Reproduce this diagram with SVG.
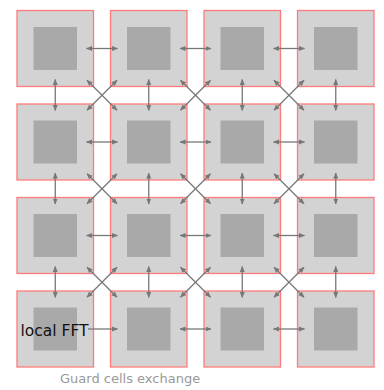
<svg xmlns="http://www.w3.org/2000/svg" width="384" height="390" viewBox="0 0 384 390">
<style>
.outer{fill:#d3d3d3;stroke:#ff7b7b;stroke-width:1.3}
.inner{fill:#a9a9a9}
.ar{stroke:#777;stroke-width:1.3;fill:none;marker-start:url(#ah);marker-end:url(#ah)}
.ar1{stroke:#777;stroke-width:1.3;fill:none;marker-end:url(#ah)}
.lbl{font-family:"DejaVu Sans",sans-serif;font-size:15.5px;fill:#111}
.cap{font-family:"DejaVu Sans",sans-serif;font-size:13px;fill:#999}
</style>
<defs>
<marker id="ah" viewBox="0 0 6 6" refX="5.5" refY="3" markerWidth="6" markerHeight="6" markerUnits="userSpaceOnUse" orient="auto-start-reverse">
<path d="M0,0.5 L6,3 L0,5.5 z" fill="#777"/>
</marker>
</defs>
<g id="nodes">
<g id="n00"><rect class="outer" x="17" y="10.5" width="76.5" height="76"/><rect class="inner" x="33.5" y="27" width="43.5" height="43"/></g>
<g id="n01"><rect class="outer" x="110.5" y="10.5" width="76.5" height="76"/><rect class="inner" x="127" y="27" width="43.5" height="43"/></g>
<g id="n02"><rect class="outer" x="204" y="10.5" width="76.5" height="76"/><rect class="inner" x="220.5" y="27" width="43.5" height="43"/></g>
<g id="n03"><rect class="outer" x="297.5" y="10.5" width="76.5" height="76"/><rect class="inner" x="314" y="27" width="43.5" height="43"/></g>
<g id="n10"><rect class="outer" x="17" y="104" width="76.5" height="76"/><rect class="inner" x="33.5" y="120.5" width="43.5" height="43"/></g>
<g id="n11"><rect class="outer" x="110.5" y="104" width="76.5" height="76"/><rect class="inner" x="127" y="120.5" width="43.5" height="43"/></g>
<g id="n12"><rect class="outer" x="204" y="104" width="76.5" height="76"/><rect class="inner" x="220.5" y="120.5" width="43.5" height="43"/></g>
<g id="n13"><rect class="outer" x="297.5" y="104" width="76.5" height="76"/><rect class="inner" x="314" y="120.5" width="43.5" height="43"/></g>
<g id="n20"><rect class="outer" x="17" y="197.5" width="76.5" height="76"/><rect class="inner" x="33.5" y="214" width="43.5" height="43"/></g>
<g id="n21"><rect class="outer" x="110.5" y="197.5" width="76.5" height="76"/><rect class="inner" x="127" y="214" width="43.5" height="43"/></g>
<g id="n22"><rect class="outer" x="204" y="197.5" width="76.5" height="76"/><rect class="inner" x="220.5" y="214" width="43.5" height="43"/></g>
<g id="n23"><rect class="outer" x="297.5" y="197.5" width="76.5" height="76"/><rect class="inner" x="314" y="214" width="43.5" height="43"/></g>
<g id="n30"><rect class="outer" x="17" y="291" width="76.5" height="76"/><rect class="inner" x="33.5" y="307.5" width="43.5" height="43"/></g>
<g id="n31"><rect class="outer" x="110.5" y="291" width="76.5" height="76"/><rect class="inner" x="127" y="307.5" width="43.5" height="43"/></g>
<g id="n32"><rect class="outer" x="204" y="291" width="76.5" height="76"/><rect class="inner" x="220.5" y="307.5" width="43.5" height="43"/></g>
<g id="n33"><rect class="outer" x="297.5" y="291" width="76.5" height="76"/><rect class="inner" x="314" y="307.5" width="43.5" height="43"/></g>
</g>
<g id="connectors">
<!-- horizontal -->
<path class="ar" d="M86.5,48.5 H117.5"/><path class="ar" d="M180,48.5 H211"/><path class="ar" d="M273.5,48.5 H304.5"/>
<path class="ar" d="M86.5,142 H117.5"/><path class="ar" d="M180,142 H211"/><path class="ar" d="M273.5,142 H304.5"/>
<path class="ar" d="M86.5,235.5 H117.5"/><path class="ar" d="M180,235.5 H211"/><path class="ar" d="M273.5,235.5 H304.5"/>
<path class="ar1" d="M88,329 H117.5"/><path class="ar" d="M180,329 H211"/><path class="ar" d="M273.5,329 H304.5"/>
<!-- vertical -->
<path class="ar" d="M55.25,79.5 V110.5"/><path class="ar" d="M148.75,79.5 V110.5"/><path class="ar" d="M242.25,79.5 V110.5"/><path class="ar" d="M335.75,79.5 V110.5"/>
<path class="ar" d="M55.25,173 V204"/><path class="ar" d="M148.75,173 V204"/><path class="ar" d="M242.25,173 V204"/><path class="ar" d="M335.75,173 V204"/>
<path class="ar" d="M55.25,266.5 V297.5"/><path class="ar" d="M148.75,266.5 V297.5"/><path class="ar" d="M242.25,266.5 V297.5"/><path class="ar" d="M335.75,266.5 V297.5"/>
<!-- diagonals -->
<path class="ar" d="M87,80.25 L117,110.25"/><path class="ar" d="M117,80.25 L87,110.25"/>
<path class="ar" d="M180.5,80.25 L210.5,110.25"/><path class="ar" d="M210.5,80.25 L180.5,110.25"/>
<path class="ar" d="M274,80.25 L304,110.25"/><path class="ar" d="M304,80.25 L274,110.25"/>
<path class="ar" d="M87,173.75 L117,203.75"/><path class="ar" d="M117,173.75 L87,203.75"/>
<path class="ar" d="M180.5,173.75 L210.5,203.75"/><path class="ar" d="M210.5,173.75 L180.5,203.75"/>
<path class="ar" d="M274,173.75 L304,203.75"/><path class="ar" d="M304,173.75 L274,203.75"/>
<path class="ar" d="M87,267.25 L117,297.25"/><path class="ar" d="M117,267.25 L87,297.25"/>
<path class="ar" d="M180.5,267.25 L210.5,297.25"/><path class="ar" d="M210.5,267.25 L180.5,297.25"/>
<path class="ar" d="M274,267.25 L304,297.25"/><path class="ar" d="M304,267.25 L274,297.25"/>
</g>
<text class="lbl" x="20.5" y="336">local FFT</text>
<text class="cap" x="60" y="383">Guard cells exchange</text>
</svg>
